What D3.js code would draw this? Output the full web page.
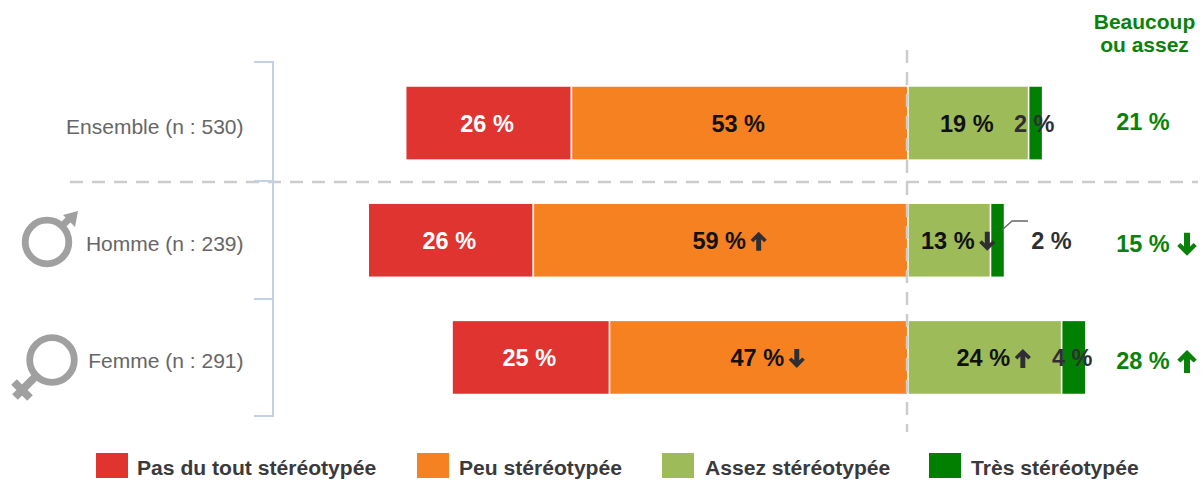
<!DOCTYPE html>
<html>
<head>
<meta charset="utf-8">
<script src="https://cdn.jsdelivr.net/npm/d3@7"></script>
<style>
  html, body { margin: 0; background: #fff; }
  text { font-family: "Liberation Sans", Arial, sans-serif; }
</style>
</head>
<body>
<svg width="1201" height="480"></svg>
<script>
const rows = ['Ensemble (n : 530)', 'Homme (n : 239)', 'Femme (n : 291)'];
const seriesNames = ['Pas du tout stéréotypée', 'Peu stéréotypée', 'Assez stéréotypée', 'Très stéréotypée'];
const seriesColors = ['#e03431', '#f68121', '#9dbb59', '#007f00'];

const pasDuTout = [26.1, 26, 24.8];
const peu = [53, 59, 47];
const assez = [19, 13, 24.2];
const tres = [2.2, 2.2, 3.8];
const beaucoupOuAssez = [21, 15, 28];

// 1 = significantly up, -1 = down, 0 = nothing to show
const pasDuToutTrend = [0, 0, 0];
const peuTrend = [0, 1, -1];
const assezTrend = [0, -1, 1];
const tresTrend = [0, 0, 0];
const totalTrend = [0, -1, 1];

const series = [pasDuTout, peu, assez, tres];
const trends = [pasDuToutTrend, peuTrend, assezTrend, tresTrend];

const green = '#0a820a';
const svg = d3.select('svg');

const x = d3.scaleLinear().domain([0, 30]).range([908, 908 + 30 * 6.35]);
const y = d3.scaleBand().domain(rows).range([86, 394.5]).paddingInner(43 / 117);
const pct = d => `${Math.round(d)} %`;

// up arrow centred on 0,0, flipped for down
function arrow(g, px, py, dir, color, s) {
  g.append('path')
    .attr('transform', `translate(${px},${py}) scale(${s},${s * dir})`)
    .attr('d', 'M0,-10 L8.5,-1.5 L5.8,1 L2.6,-2 L2.6,10 L-2.6,10 L-2.6,-2 L-5.8,1 L-8.5,-1.5 Z')
    .attr('fill', color);
}

const dash = { stroke: '#cccccc', width: 2.5, array: '13,9' };
svg.append('line').attr('x1', 70).attr('x2', 1198).attr('y1', 182).attr('y2', 182)
  .attr('stroke', dash.stroke).attr('stroke-width', dash.width).attr('stroke-dasharray', dash.array);

// bracket
const bracketPath = d3.path();
[62, 181, 299, 416].forEach(v => {
  bracketPath.moveTo(254, v);
  bracketPath.lineTo(273, v);
});
bracketPath.moveTo(273, 61);
bracketPath.lineTo(273, 417);
svg.append('path').attr('d', bracketPath.toString())
  .attr('fill', 'none').attr('stroke', '#c3d1e6').attr('stroke-width', 2);

// bars
rows.forEach((row, r) => {
  const g = svg.append('g');
  const left = -(pasDuTout[r] + peu[r]);
  const starts = [left, -peu[r], 0, assez[r]];

  series.forEach((s, i) => {
    g.append('rect')
      .attr('x', x(starts[i]))
      .attr('y', y(row))
      .attr('width', x(starts[i] + s[r]) - x(starts[i]))
      .attr('height', y.bandwidth())
      .attr('fill', seriesColors[i])
      .attr('stroke', '#fff')
      .attr('stroke-width', 1.5);
  });

  const cy = y(row) + y.bandwidth() / 2;
  series.forEach((s, i) => {
    let cx = (x(starts[i]) + x(starts[i] + s[r])) / 2;
    // Homme's "tres" share is too thin, label moved out with a leader
    if (i === 3 && r === 1) {
      cx = 1053;
      g.append('path').attr('d', 'M1002,230 L1012,221 L1028,221')
        .attr('fill', 'none').attr('stroke', '#666').attr('stroke-width', 1.3);
    }
    const color = i === 0 ? '#fff' : (i === 3 ? '#2f2f33' : '#111');
    g.append('text')
      .attr('x', cx - 1.5)
      .attr('y', cy + 9)
      .attr('text-anchor', 'middle')
      .attr('font-size', 23.5)
      .attr('font-weight', 'bold')
      .attr('fill', color)
      .text(pct(s[r]));
    if (trends[i][r]) arrow(g, cx + 38, cy + 1, trends[i][r], '#2f2f33', 0.95);
  });

  // row label
  g.append('text')
    .attr('x', 243.5)
    .attr('y', cy + 11)
    .attr('text-anchor', 'end')
    .attr('font-size', 21)
    .attr('fill', '#666')
    .text(row);

  // total on the right
  g.append('text')
    .attr('x', 1143)
    .attr('y', cy + (r === 0 ? 7 : 12))
    .attr('text-anchor', 'middle')
    .attr('font-size', 23.5)
    .attr('font-weight', 'bold')
    .attr('fill', green)
    .text(pct(beaucoupOuAssez[r]));
  if (totalTrend[r]) arrow(g, 1187, cy + 4, totalTrend[r], green, 1.15);
});

// vertical reference goes over the bars
svg.append('line').attr('x1', 907).attr('x2', 907).attr('y1', 50).attr('y2', 432)
  .attr('stroke', dash.stroke).attr('stroke-width', dash.width).attr('stroke-dasharray', dash.array);

// column header
svg.append('text').attr('x', 1144.5).attr('y', 29).attr('text-anchor', 'middle')
  .attr('font-size', 21).attr('font-weight', 'bold').attr('fill', green).text('Beaucoup');
svg.append('text').attr('x', 1144.5).attr('y', 52).attr('text-anchor', 'middle')
  .attr('font-size', 21).attr('font-weight', 'bold').attr('fill', green).text('ou assez');

// gender icons
const icons = svg.append('g').attr('fill', 'none').attr('stroke', '#a0a0a0').attr('stroke-width', 6.8);
icons.append('circle').attr('cx', 47).attr('cy', 242).attr('r', 21.8);
icons.append('line').attr('x1', 62).attr('y1', 226).attr('x2', 72).attr('y2', 216);
svg.append('path').attr('d', 'M78,211 L75,227 L63,215 Z').attr('fill', '#a0a0a0');
icons.append('circle').attr('cx', 52).attr('cy', 360).attr('r', 22.3);
icons.append('path').attr('d', 'M36,376 L15,397 M14,382 L30,398').attr('stroke-width', 8);

// legend
const legendSwatchX = [96, 417, 662, 929];
const legendTextX = [137, 459, 705, 971];
seriesNames.forEach((name, i) => {
  svg.append('rect').attr('x', legendSwatchX[i]).attr('y', 453).attr('width', 32).attr('height', 25)
    .attr('fill', seriesColors[i]);
  svg.append('text').attr('x', legendTextX[i]).attr('y', 475)
    .attr('font-size', 21.1).attr('font-weight', 'bold').attr('fill', '#3a3a3c').text(name);
});
</script>
</body>
</html>
